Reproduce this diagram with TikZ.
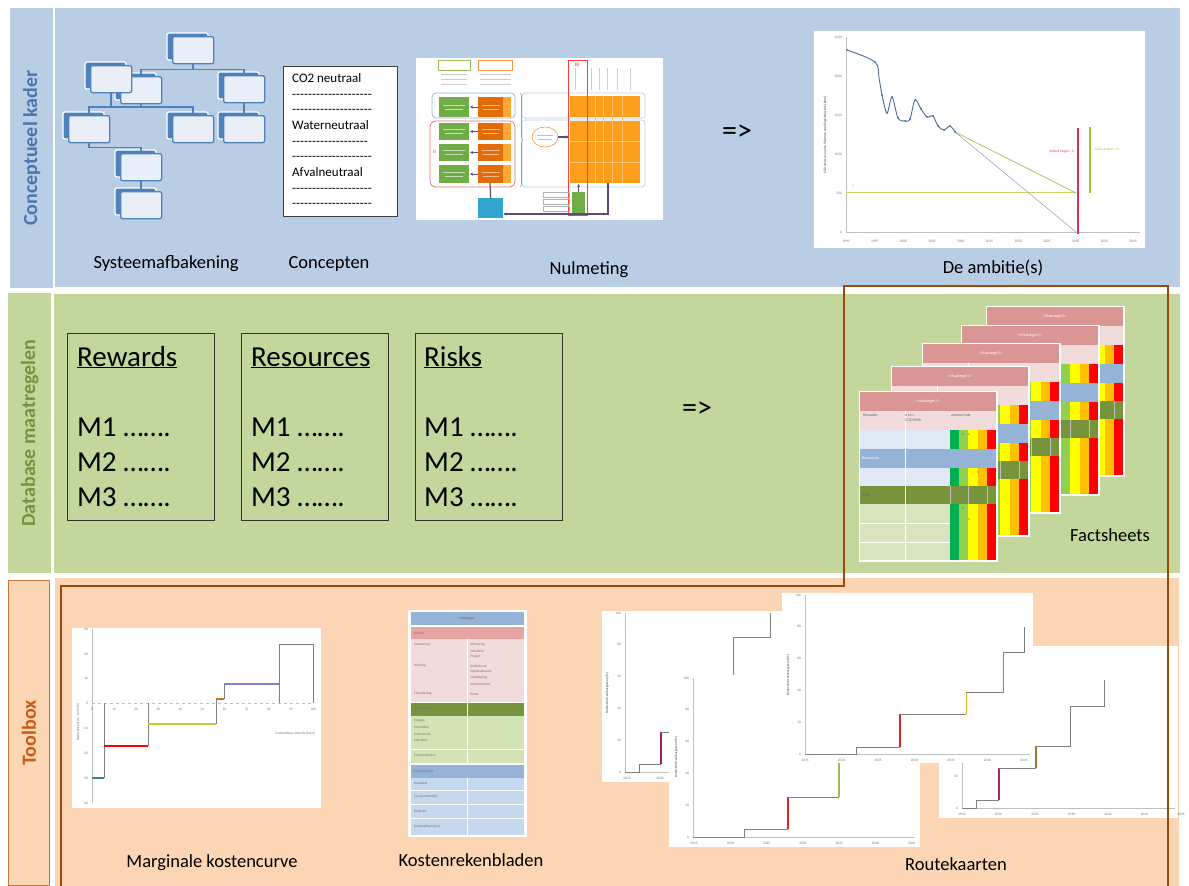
\documentclass[tikz,border=0pt]{standalone}
\usepackage{fontspec}
\setmainfont{Carlito}
\newfontfamily\plainfont{Carlito}
\usetikzlibrary{arrows.meta,decorations.pathreplacing,shapes.geometric}
\definecolor{bandblue}{HTML}{B9CDE5}
\definecolor{bandgreen}{HTML}{C3D69B}
\definecolor{bandpeach}{HTML}{FCD5B5}
\definecolor{txtblue}{HTML}{4A76AF}
\definecolor{txtgreen}{HTML}{77933C}
\definecolor{txtorange}{HTML}{C65D15}
\definecolor{framebrown}{HTML}{9C4A0A}
\definecolor{stripline}{HTML}{C8783A}
\definecolor{orgblue}{HTML}{4F81BD}
\definecolor{orgfill}{HTML}{E9EEF7}
\definecolor{fshead}{HTML}{D99694}
\definecolor{fspink}{HTML}{F2DCDB}
\definecolor{fslblue}{HTML}{E1E9F4}
\definecolor{fsblue}{HTML}{95B3D7}
\definecolor{fsolive}{HTML}{77933C}
\definecolor{fslgreen}{HTML}{D7E4BD}
\definecolor{cgreen}{HTML}{00B050}
\definecolor{clgreen}{HTML}{92D050}
\definecolor{cyellow}{HTML}{FFFF00}
\definecolor{corange}{HTML}{FFC000}
\definecolor{cred}{HTML}{FF0000}
\definecolor{nulgreen}{HTML}{70AD47}
\definecolor{nulorange}{HTML}{E36C0A}
\definecolor{nullorange}{HTML}{FFA733}
\definecolor{nulgrid}{HTML}{FF9E1B}
\definecolor{nulpurple}{HTML}{604A7B}
\definecolor{nulteal}{HTML}{31A5CF}
\definecolor{nulbluel}{HTML}{8DB4E2}
\definecolor{nulredl}{HTML}{E57373}
\definecolor{nulorl}{HTML}{F79646}
\definecolor{nulgreenl}{HTML}{9BBB59}
\definecolor{nulred}{HTML}{FF3B3B}
\definecolor{axisgray}{HTML}{BFBFBF}
\definecolor{stepgray}{HTML}{808080}
\definecolor{ambcurve}{HTML}{4A6A9A}
\definecolor{ambgreen}{HTML}{A8C85A}
\definecolor{ambyell}{HTML}{C8D860}
\definecolor{ambgray}{HTML}{8A9BC0}
\definecolor{ambred}{HTML}{D6335A}
\definecolor{ambvgreen}{HTML}{9CC83C}
\definecolor{mkteal}{HTML}{3F7F74}
\definecolor{mkgreen}{HTML}{B5D334}
\definecolor{mkorange}{HTML}{C0782A}
\definecolor{mkblue}{HTML}{8080D0}
\definecolor{rkred}{HTML}{E82020}
\definecolor{rkdred}{HTML}{A0203A}
\definecolor{rkorange}{HTML}{E8B020}
\definecolor{rkgreen}{HTML}{9BBB59}
\definecolor{rkpurple}{HTML}{A0305A}
\definecolor{rkbrown}{HTML}{B07030}
\definecolor{klgreen}{HTML}{D3E3B5}
\definecolor{klblue}{HTML}{C6D8EE}
\definecolor{kband}{HTML}{E6A5A3}
\tikzset{
  bandnode/.style={inner sep=0, anchor=north west, draw=none},
  sidelabel/.style={rotate=90, font=\bfseries\fontsize{20}{24}\selectfont, inner sep=0},
  caption/.style={font=\fontsize{18.5}{22}\selectfont, inner sep=0, anchor=base},
  orgfront/.style={draw=orgblue, fill=orgfill, line width=1.3pt, rounded corners=2pt, inner sep=0, minimum width=41pt, minimum height=27pt, anchor=north west},
  orgline/.style={draw=orgblue, line width=1.6pt},
  ctext/.style={font=\fontsize{13}{15}\selectfont, inner sep=0, anchor=base west},
  dtext/.style={font=\plainfont\fontsize{13}{15}\selectfont, inner sep=0, anchor=base west},
  bigtext/.style={font=\fontsize{29}{34}\selectfont, inner sep=0, anchor=base west},
  mbox/.style={draw=black!80, line width=0.9pt, inner sep=0, minimum width=147pt, minimum height=187pt, anchor=north west},
  arrowtext/.style={font=\fontsize{30}{34}\selectfont, inner sep=0},
  tinytext/.style={font=\fontsize{4}{4.6}\selectfont, inner sep=0, text=black!60},
  microtext/.style={font=\fontsize{3.5}{4}\selectfont, inner sep=0, text=black!55},
  imgbox/.style={fill=white, draw=none, inner sep=0, anchor=north west},
  steps/.style={draw=stepgray, line width=0.9pt},
}
\newcommand{\orgbox}[3]{%
  \filldraw[draw=white, line width=1.2pt, fill=orgblue, rounded corners=2pt] (#2,#3) rectangle ++(41,27);
  \node[orgfront] (#1) at (#2+5,#3+3) {};
}
\newcommand{\fcard}[3]{%
  \begin{scope}[shift={(#2,#3)}]
    \node[imgbox, minimum width=139pt, minimum height=171pt] (#1) at (-1.5,-1.5) {};
    \fill[fshead] (0,0) rectangle (136,19);
    \fill[fspink] (0,19) rectangle (136,38);
    \fill[fslblue] (0,38) rectangle (90,57);
    \fill[fsblue] (0,57) rectangle (136,76);
    \fill[fslblue] (0,76) rectangle (90,94);
    \fill[fsolive] (0,94) rectangle (136,112);
    \fill[fslgreen] (0,112) rectangle (90,168);
    \foreach \ya/\yb in {38/57,76/94,112/168} {
      \fill[cgreen] (90,\ya) rectangle (99,\yb);
      \fill[clgreen] (99,\ya) rectangle (108,\yb);
      \fill[cyellow] (108,\ya) rectangle (118,\yb);
      \fill[corange] (118,\ya) rectangle (127,\yb);
      \fill[cred] (127,\ya) rectangle (136,\yb);
    }
    \draw[white, line width=0.4pt] (45,19) -- (45,168);
    \draw[white, line width=0.4pt] (0,131) -- (90,131) (0,150) -- (90,150);
    \draw[black!25, line width=0.3pt] (90,94) -- (90,112) (108,94) -- (108,112) (127,94) -- (127,112);
    \node[tinytext, text=white] (#1h) at (68,9.5) {<Maatregel 1>};
  \end{scope}
}
\begin{document}
\begin{tikzpicture}[x=1pt,y=-1pt]
\useasboundingbox (0,0) rectangle (1189,886);
\fill[white] (0,0) rectangle (1189,886);

% ---------- bands ----------
\node[bandnode, fill=bandblue, minimum width=43pt, minimum height=280pt] (s1) at (10,8) {};
\node[bandnode, fill=bandblue, minimum width=1125pt, minimum height=279pt] (p1) at (55,8) {};
\node[bandnode, fill=bandgreen, minimum width=43pt, minimum height=280pt] (s2) at (8,293) {};
\node[bandnode, fill=bandgreen, minimum width=1126pt, minimum height=279pt] (p2) at (54,294) {};
\node[bandnode, fill=bandpeach, draw=stripline, line width=0.8pt, minimum width=41pt, minimum height=305pt] (s3) at (8,580) {};
\node[bandnode, fill=bandpeach, minimum width=1124pt, minimum height=308pt] (p3) at (55,578) {};
\node[sidelabel, text=txtblue] (l1) at (s1.center) {Conceptueel kader};
\node[sidelabel, text=txtgreen] (l2) at (s2.center) {Database maatregelen};
\node[sidelabel, text=txtorange] (l3) at (s3.center) {Toolbox};

% ---------- org chart ----------
\orgbox{o1}{167}{33}
\orgbox{o3}{115}{73}
\orgbox{o2}{85}{62}
\orgbox{o4}{218}{72}
\orgbox{o5}{63}{112}
\orgbox{o6}{167}{112}
\orgbox{o7}{218}{112}
\orgbox{o8}{115}{150}
\orgbox{o9}{115}{188}
\draw[orgline] (o1.south) -- ++(0,5) -| (o4.north);
\draw[orgline] (o1.south) ++(0,5) -| (o3.north);
\draw[orgline] (o2.south) -- ++(0,15);
\draw[orgline] (o3.south) -- ++(0,4);
\draw[orgline] (o5.north) -- ++(0,-8) -| (o6.north);
\draw[orgline] (o4.south) -- (o7.north);
\draw[orgline] (o5.south) -- ++(0,4) -| (o8.north);
\draw[orgline] (o8.south) -- (o9.north);
\node[caption] (capSys) at (166,268) {Systeemafbakening};

% ---------- concepten ----------
\node[draw=black!75, fill=white, line width=0.9pt, inner sep=0, minimum width=114pt, minimum height=150pt, anchor=north west] (cbox) at (283,66) {};
\node[ctext] (c1) at (292,82) {CO2 neutraal};
\node[dtext] (c2) at (292,98) {--------------------};
\node[dtext] (c3) at (292,113) {--------------------};
\node[ctext] (c4) at (292,129) {Waterneutraal};
\node[dtext] (c5) at (292,145) {-------------------};
\node[dtext] (c6) at (292,160) {--------------------};
\node[ctext] (c7) at (292,176) {Afvalneutraal};
\node[dtext] (c8) at (292,192) {--------------------};
\node[dtext] (c9) at (292,207) {--------------------};
\node[caption] (capCon) at (329,268) {Concepten};

% ---------- nulmeting ----------
\node[imgbox, minimum width=247pt, minimum height=162pt] (nul) at (416,58) {};
\draw[nulgreenl, line width=0.5pt] (438,60) rectangle (470,70);
\draw[nulorl, line width=0.5pt] (478,60) rectangle (512,70);
\foreach \y in {74,79,84} {
  \draw[black!20, line width=0.6pt] (441,\y) -- (467,\y);
  \draw[black!20, line width=0.6pt] (480,\y) -- (511,\y);
}
\foreach \x in {575,591,599,607,617,630} \draw[black!20, line width=0.5pt] (\x,68) -- (\x,90);
\draw[bandblue, line width=0.6pt, rounded corners=3pt] (522,93) rectangle (645,118);
\draw[bandblue, line width=0.6pt, rounded corners=3pt] (522,120) rectangle (645,187);
\fill[nulgrid] (570,96) rectangle (640,117);
\fill[nulgrid] (570,121) rectangle (640,183);
\foreach \x in {587,595,603,612,622} \draw[white!35!nulgrid, line width=0.5pt] (\x,96) -- (\x,183);
\foreach \y in {141,162} \draw[white!40!nulgrid, line width=0.3pt] (570,\y) -- (640,\y);
\draw[nulred, line width=0.9pt] (568,60) rectangle (587,215);
\node[font=\bfseries\fontsize{5}{5}\selectfont, text=nulred, inner sep=0] (nIII) at (577,65) {III};
\draw[nulbluel, line width=0.7pt, rounded corners=4pt] (432,93) rectangle (515,118);
\draw[nulredl, line width=0.8pt, rounded corners=6pt] (430,121) rectangle (515,187);
\node[font=\fontsize{5}{5}\selectfont, text=nulbluel, inner sep=0] (nI) at (435,106) {I};
\node[font=\bfseries\fontsize{5}{5}\selectfont, text=nulredl, inner sep=0] (nII) at (434.5,152) {II};
\foreach \ya/\yb in {97/117,123/140,144/161,165/183} {
  \fill[nulgreen] (439,\ya) rectangle (469,\yb);
  \fill[nulorange] (478,\ya) rectangle (503,\yb);
  \fill[nullorange] (503,\ya) rectangle (511,\yb);
  \draw[white!60!nulgreen, line width=0.5pt] (443,{(\ya+\yb)/2-2}) -- (465,{(\ya+\yb)/2-2}) (445,{(\ya+\yb)/2+2}) -- (463,{(\ya+\yb)/2+2});
  \draw[white!55!nulorange, line width=0.5pt] (482,{(\ya+\yb)/2-2}) -- (500,{(\ya+\yb)/2-2}) (483,{(\ya+\yb)/2+2}) -- (499,{(\ya+\yb)/2+2});
  \draw[nulpurple, line width=1pt, -{Stealth[length=3pt,width=3pt]}] (478,{(\ya+\yb)/2}) -- (470,{(\ya+\yb)/2});
}
\draw[nulpurple!60, line width=0.6pt, decorate, decoration={brace, amplitude=3pt}] (520,93) -- (520,187);
\node[ellipse, draw=nulorl, line width=0.6pt, fill=white, minimum width=26pt, minimum height=20pt, inner sep=0] (noval) at (545,137) {};
\draw[black!25, line width=0.5pt] (537,135) -- (553,135) (538,139) -- (552,139);
\draw[nulpurple, line width=1.2pt, -{Stealth[length=3pt,width=3pt]}] (noval.east) -- (569,137);
\node[fill=nulteal, inner sep=0, minimum width=25pt, minimum height=20pt, anchor=north west] (nteal) at (478,198) {};
\draw[nulpurple, line width=1.2pt] (490,183) -- (nteal.north);
\node[fill=nulgreen, inner sep=0, minimum width=13pt, minimum height=21pt, anchor=north west] (ngb) at (572,192) {};
\draw[nulpurple, line width=1.2pt, -{Stealth[length=3pt,width=3pt]}] (ngb.north) -- ++(0,-8);
\draw[nulpurple, line width=1.2pt, -{Stealth[length=3pt,width=3pt]}] (608,183) -- (608,214) -- (nteal.east |- 0,214);
\foreach \y in {192,199,206} \draw[black!30, line width=0.4pt] (543,\y) rectangle (569,\y+5);
\node[caption] (capNul) at (589,274) {Nulmeting};

\node[arrowtext] (arr1) at (737,133) {=>};

% ---------- ambitie chart ----------
\node[imgbox, minimum width=331pt, minimum height=217pt] (amb) at (814,31) {};
\draw[axisgray, line width=0.5pt] (846,37) -- (846,232) -- (1140,232);
\foreach \v [count=\i from 0] in {0,500,1000,1500,2000,2500}
  \node[microtext, anchor=east] (ay\i) at (842,232-39*\i) {\v};
\foreach \yr [count=\i from 0] in {1990,1995,2000,2005,2010,2015,2020,2025,2030,2035,2040}
  \node[microtext] (ax\i) at (846+28.7*\i,241) {\yr};
\node[microtext, rotate=90, font=\bfseries\fontsize{3.5}{4}\selectfont] (atitle) at (825,135) {CO2 emissie van de Vlaamse voedingsindustrie (kton)};
\draw[ambyell, line width=0.8pt] (846,192) -- (1076,192);
\draw[ambgreen, line width=0.8pt] (955,132) -- (1076,193);
\draw[ambgray, line width=0.5pt] (955,132) -- (1076,232);
\draw[ambcurve, line width=0.9pt] plot[smooth, tension=0.55] coordinates {(847,50) (875,62) (879,78) (882,95) (887,113) (892,97) (898,118) (905,121) (910,119) (915,100) (921,109) (927,117) (933,116) (938,126) (944,130) (950,126) (955,132)};
\foreach \p in {(847,50),(875,62),(882,95),(887,113),(892,97),(898,118),(905,121),(910,119),(915,100),(921,109),(927,117),(933,116),(938,126),(944,130),(950,126),(955,132)}
  \fill[ambcurve] \p circle (1);
\draw[ambred, line width=2.2pt] (1078,128) -- (1078,234);
\draw[ambvgreen, line width=1.2pt] (1090,127) -- (1090,193);
\node[microtext, text=ambred, anchor=east] (atarget) at (1074,152) {delta \# target = 0};
\node[microtext, text=ambvgreen, anchor=west] (adoors) at (1095,149) {Delta \# doors = 0};
\node[microtext, text=ambvgreen] (aE) at (853,186) {E};
\node[caption] (capAmb) at (993,273) {De ambitie(s)};

% ---------- database ----------
\node[mbox] (brew) at (67,333) {};
\node[mbox] (bres) at (241,333) {};
\node[mbox] (bris) at (415,333) {};
\node[bigtext] (trew) at (77,366) {\underline{Rewards}};
\node[bigtext] (tres) at (251,366) {\underline{Resources}};
\node[bigtext] (tris) at (424,366) {\underline{Risks}};
\foreach \x/\n in {77/a,251/b,424/c} {
  \node[bigtext] (m1\n) at (\x,436) {M1 …….};
  \node[bigtext] (m2\n) at (\x,471) {M2 …….};
  \node[bigtext] (m3\n) at (\x,506) {M3 …….};
}
\node[arrowtext] (arr2) at (697,410) {=>};

% ---------- factsheets ----------
\fcard{f5}{987}{307}
\fcard{f4}{962}{326}
\fcard{f3}{923}{344}
\fcard{f2}{892}{367}
\fcard{f1}{860}{392}
\node[tinytext, anchor=north west] (fr1) at (863,414) {Rewards:};
\node[tinytext, anchor=north west, align=left] (fr2) at (905,414) {€ ton\\CO2/kWh};
\node[tinytext, anchor=north west] (fr3) at (951,414) {aversie/cost};
\node[tinytext, anchor=west, text=white] (fr4) at (862,458) {Resources:};
\node[tinytext, anchor=west] (fr5) at (862,495) {Risks:};
\foreach \x/\y in {963/435,969/435,978/473,988/473,963/509,969/520} \node[tinytext] at (\x,\y) {x};
\node[caption] (capFact) at (1110,541) {Factsheets};

% ---------- marginale kostencurve ----------
\node[imgbox, minimum width=249pt, minimum height=180pt] (mk) at (72,628) {};
\draw[axisgray, line width=0.5pt] (92,629) -- (92,803);
\draw[axisgray, line width=0.5pt, dashed] (92,703) -- (313,703);
\foreach \v [count=\i from 0] in {30,20,10,0,-10,-20,-30,-40}
  \node[microtext, anchor=east] (mky\i) at (88,629+24.9*\i) {\v};
\foreach \v [count=\i from 0] in {0,10,20,30,40,50,60,70,80,90,100}
  \node[microtext] (mkx\i) at (92+22.1*\i,709) {\v};
\node[microtext] (mkxt) at (295,733) {Cumulatieve reductie (kton)};
\node[microtext, rotate=90] (mkyt) at (78,722) {Reductiekost (€ / ton CO2)};
\draw[steps] (104,703) -- (104,778);
\draw[steps] (148,703) -- (148,746);
\draw[steps] (216,699) -- (216,724);
\draw[steps] (224,684) -- (224,699);
\draw[steps] (279,703) -- (279,644) -- (313,644) -- (313,703);
\draw[mkteal, line width=1.4pt] (92,778) -- (104,778);
\draw[red, line width=2.2pt] (104,746) -- (148,746);
\draw[mkgreen, line width=1.2pt] (148,724) -- (216,724);
\draw[mkorange, line width=1.8pt] (216,699) -- (224,699);
\draw[mkblue, line width=1.2pt] (224,684) -- (279,684);
\node[caption] (capMk) at (212,867) {Marginale kostencurve};

% ---------- kostenrekenbladen ----------
\node[imgbox, minimum width=119pt, minimum height=227pt] (kr) at (408,610) {};
\fill[fsblue] (411,612) rectangle (524,625);
\fill[kband] (411,627) rectangle (524,639);
\fill[fspink] (411,639) rectangle (524,702);
\fill[fsolive] (411,703) rectangle (524,716);
\fill[klgreen] (411,716) rectangle (524,763);
\fill[fsblue] (411,765) rectangle (524,778);
\fill[klblue] (411,778) rectangle (524,835);
\draw[white, line width=0.5pt] (467,639) -- (467,763) (467,703) -- (467,716) (467,778) -- (467,835);
\draw[white, line width=0.4pt] (411,749) -- (524,749) (411,790) -- (524,790) (411,804) -- (524,804) (411,818) -- (524,818);
\node[microtext, font=\bfseries\fontsize{3.5}{4}\selectfont] (kt0) at (467,618.5) {Maatregel};
\foreach \x/\y/\t in {414/633/Kosten, 414/645/Investering, 470/645/Uitvoering, 470/651/Installatie, 470/657/Project, 414/666/Werking, 470/666/Onderhoud, 470/672/Ingebruikname, 470/678/Verzekering, 470/684/Administratief, 414/694/Financiering, 470/694/Rente, 414/709/Opbrengsten, 414/721/Energie, 414/727/Vermeden, 414/734/Onderhoud, 414/740/Subsidies, 414/755/Emissierechten, 414/771/Eindresultaat, 414/783/Resultaat, 414/797/Terugverdientijd, 414/811/Reductie, 414/826/Kosteneffectiviteit}
  \node[microtext, anchor=west] at (\x,\y) {\t};
\node[caption] (capKr) at (471,866) {Kostenrekenbladen};

% ---------- routekaarten ----------
% chart A
\node[imgbox, minimum width=190pt, minimum height=171pt] (rkA) at (602,611) {};
\draw[axisgray, line width=0.5pt] (625,613) -- (625,772) -- (700,772);
\foreach \v [count=\i from 0] in {0,20,40,60,80,100}
  \node[microtext, anchor=east] (rAy\i) at (621,772-31.8*\i) {\v};
\foreach \yr [count=\i from 0] in {2015,2020}
  \node[microtext] (rAx\i) at (627+33*\i,778) {\yr};
\node[microtext, rotate=90, font=\bfseries\fontsize{3.5}{4}\selectfont] (rAt) at (607,693) {Reductie broeikasgassen (\%)};
\draw[steps] (625,772) -- (639,772) -- (639,764) -- (661,764);
\draw[rkdred, line width=1.8pt] (661,764) -- (661,732);
\draw[steps] (661,732) -- (700,732) -- (700,700) -- (733,700) -- (733,637) -- (770,637) -- (770,613);
% chart B
\node[imgbox, minimum width=251pt, minimum height=172pt] (rkB) at (669,675) {};
\draw[axisgray, line width=0.5pt] (693,678) -- (693,837) -- (915,837);
\foreach \v [count=\i from 0] in {0,20,40,60,80,100}
  \node[microtext, anchor=east] (rBy\i) at (689,837-31.8*\i) {\v};
\foreach \yr [count=\i from 0] in {2015,2020,2025,2030,2035,2040,2045}
  \node[microtext] (rBx\i) at (694+36.3*\i,843) {\yr};
\node[microtext, rotate=90, font=\bfseries\fontsize{3.5}{4}\selectfont] (rBt) at (676,757) {Reductie broeikasgassen (\%)};
\draw[steps] (693,837) -- (744,837) -- (744,829) -- (788,829);
\draw[rkred, line width=1.8pt] (788,829) -- (788,797);
\draw[steps] (788,797) -- (839,797);
\draw[rkgreen, line width=1.2pt] (839,797) -- (839,763);
% chart D
\node[imgbox, minimum width=239pt, minimum height=172pt] (rkD) at (939,646) {};
\draw[axisgray, line width=0.5pt] (962,650) -- (962,808) -- (1175,808);
\foreach \v [count=\i from 0] in {0,20,40,60,80,100}
  \node[microtext, anchor=east] (rDy\i) at (958,808-31.4*\i) {\v};
\foreach \yr [count=\i from 0] in {2015,2020,2025,2030,2035,2040,2045}
  \node[microtext] (rDx\i) at (962+36.5*\i,814) {\yr};
\draw[steps] (962,808) -- (976,808) -- (976,800) -- (999,800);
\draw[rkpurple, line width=1.8pt] (999,800) -- (999,768);
\draw[steps] (999,768) -- (1036,768);
\draw[rkbrown, line width=1.2pt] (1036,768) -- (1036,746);
\draw[steps] (1036,746) -- (1070,746) -- (1070,706) -- (1104,706) -- (1104,680);
% chart C
\node[imgbox, minimum width=251pt, minimum height=170pt] (rkC) at (782,593) {};
\draw[axisgray, line width=0.5pt] (805,595) -- (805,754) -- (1030,754);
\foreach \v [count=\i from 0] in {0,20,40,60,80,100}
  \node[microtext, anchor=east] (rCy\i) at (801,754-31.8*\i) {\v};
\foreach \yr [count=\i from 0] in {2015,2020,2025,2030,2035,2040,2045}
  \node[microtext] (rCx\i) at (805+36.5*\i,760) {\yr};
\node[microtext, rotate=90, font=\bfseries\fontsize{3.5}{4}\selectfont] (rCt) at (788,675) {Reductie broeikasgassen (\%)};
\draw[steps] (805,754) -- (856,754) -- (856,747) -- (900,747);
\draw[rkred, line width=1.8pt] (900,747) -- (900,714);
\draw[steps] (900,714) -- (966,714);
\draw[rkorange, line width=1pt] (966,714) -- (966,692);
\draw[steps] (966,692) -- (1003,692) -- (1003,652) -- (1024,652) -- (1024,627);
\node[caption] (capRk) at (956,870) {Routekaarten};

% ---------- brown frame ----------
\draw[framebrown, line width=2.8pt] (61,886) -- (61,586) -- (844,586) -- (844,286) -- (1168,286) -- (1168,886);
\end{tikzpicture}
\end{document}
